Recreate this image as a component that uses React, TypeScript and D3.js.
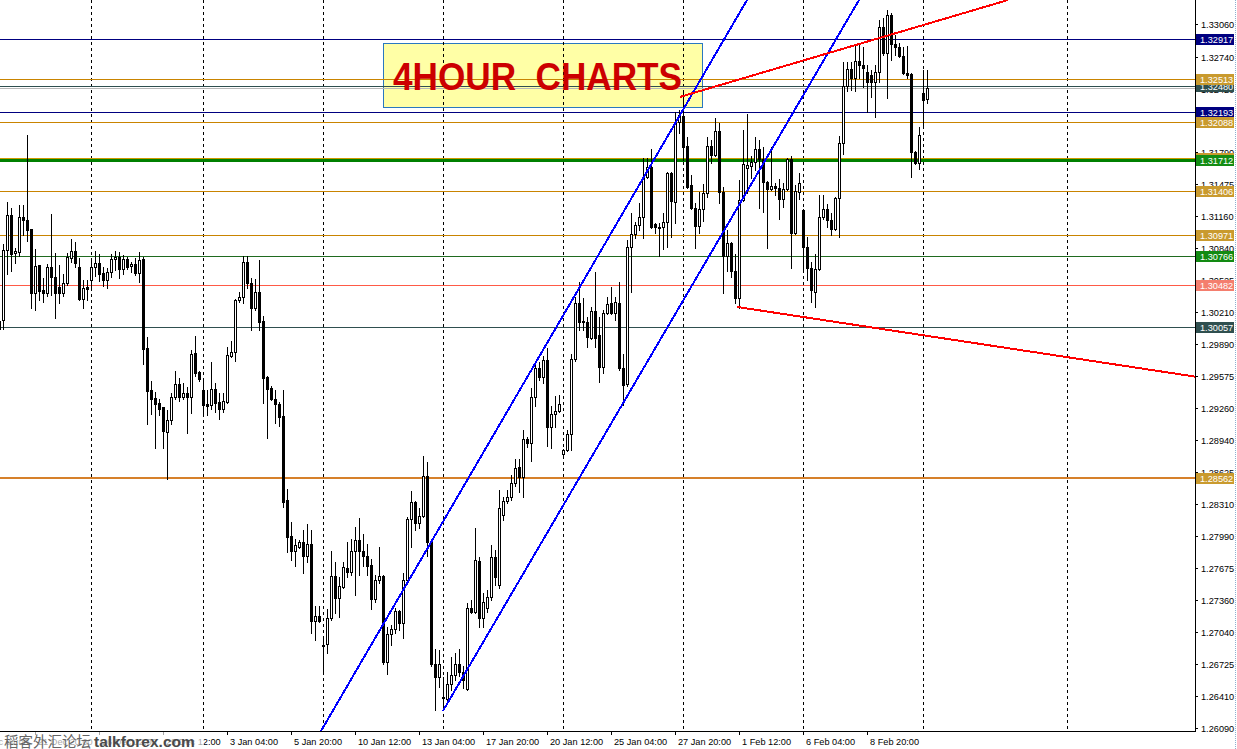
import React from "react";
import * as d3 from "d3";

// [open, high, low, close] — 4 hour candles
const candles: [number, number, number, number][] = [
  [1.3004, 1.3015, 1.2997, 1.3012], [1.3013, 1.3088, 1.3004, 1.3082], [1.3082, 1.3130, 1.3059, 1.3117], [1.3117, 1.3124, 1.3062, 1.3078],
  [1.3079, 1.3084, 1.3070, 1.3081], [1.3080, 1.3127, 1.3076, 1.3115], [1.3115, 1.3127, 1.3097, 1.3112], [1.3112, 1.3196, 1.3091, 1.3102],
  [1.3103, 1.3103, 1.3025, 1.3040], [1.3040, 1.3083, 1.3023, 1.3067], [1.3068, 1.3068, 1.3033, 1.3042], [1.3043, 1.3055, 1.3031, 1.3040],
  [1.3040, 1.3069, 1.3037, 1.3066], [1.3066, 1.3118, 1.3038, 1.3056], [1.3056, 1.3079, 1.3015, 1.3040], [1.3046, 1.3068, 1.3030, 1.3040],
  [1.3040, 1.3059, 1.3037, 1.3050], [1.3050, 1.3079, 1.3048, 1.3075], [1.3074, 1.3093, 1.3071, 1.3081], [1.3081, 1.3090, 1.3066, 1.3070],
  [1.3066, 1.3074, 1.3033, 1.3034], [1.3034, 1.3053, 1.3025, 1.3045], [1.3046, 1.3053, 1.3033, 1.3044], [1.3053, 1.3072, 1.3046, 1.3066],
  [1.3066, 1.3081, 1.3057, 1.3070], [1.3070, 1.3078, 1.3052, 1.3059], [1.3060, 1.3066, 1.3047, 1.3053], [1.3053, 1.3065, 1.3045, 1.3061],
  [1.3061, 1.3078, 1.3056, 1.3073], [1.3073, 1.3081, 1.3063, 1.3075], [1.3075, 1.3080, 1.3055, 1.3064], [1.3064, 1.3077, 1.3059, 1.3073],
  [1.3073, 1.3075, 1.3064, 1.3066], [1.3067, 1.3071, 1.3061, 1.3069], [1.3069, 1.3074, 1.3058, 1.3060], [1.3060, 1.3080, 1.3051, 1.3072],
  [1.3073, 1.3075, 1.2969, 1.2984], [1.2985, 1.2996, 1.2910, 1.2943], [1.2944, 1.2953, 1.2920, 1.2935], [1.2936, 1.2942, 1.2886, 1.2930],
  [1.2931, 1.2935, 1.2919, 1.2925], [1.2927, 1.2927, 1.2886, 1.2903], [1.2902, 1.2924, 1.2856, 1.2914], [1.2914, 1.2941, 1.2910, 1.2937],
  [1.2937, 1.2963, 1.2935, 1.2950], [1.2950, 1.2956, 1.2933, 1.2937], [1.2937, 1.2951, 1.2935, 1.2941], [1.2941, 1.2947, 1.2901, 1.2937],
  [1.2937, 1.2983, 1.2921, 1.2979], [1.2980, 1.2997, 1.2958, 1.2961], [1.2962, 1.2963, 1.2953, 1.2955], [1.2944, 1.2953, 1.2921, 1.2929],
  [1.2930, 1.2944, 1.2919, 1.2928], [1.2929, 1.2971, 1.2925, 1.2945], [1.2945, 1.2951, 1.2922, 1.2931], [1.2932, 1.2941, 1.2915, 1.2925],
  [1.2925, 1.2941, 1.2922, 1.2933], [1.2932, 1.2986, 1.2931, 1.2978], [1.2977, 1.2992, 1.2976, 1.2981], [1.2981, 1.3034, 1.2972, 1.3033],
  [1.3033, 1.3041, 1.3031, 1.3036], [1.3036, 1.3076, 1.3030, 1.3071], [1.3071, 1.3076, 1.3045, 1.3050], [1.3050, 1.3055, 1.3003, 1.3025],
  [1.3025, 1.3054, 1.3023, 1.3041], [1.3041, 1.3072, 1.3003, 1.3011], [1.3012, 1.3017, 1.2931, 1.2956], [1.2957, 1.2958, 1.2896, 1.2945],
  [1.2946, 1.2948, 1.2934, 1.2935], [1.2935, 1.2944, 1.2911, 1.2930], [1.2930, 1.2932, 1.2908, 1.2917], [1.2918, 1.2944, 1.2828, 1.2833],
  [1.2835, 1.2846, 1.2783, 1.2798], [1.2799, 1.2813, 1.2775, 1.2784], [1.2784, 1.2796, 1.2769, 1.2790], [1.2788, 1.2795, 1.2787, 1.2793],
  [1.2793, 1.2805, 1.2762, 1.2779], [1.2779, 1.2811, 1.2773, 1.2791], [1.2791, 1.2805, 1.2703, 1.2715], [1.2715, 1.2730, 1.2696, 1.2720],
  [1.2720, 1.2730, 1.2714, 1.2715], [1.2690, 1.2699, 1.2664, 1.2691], [1.2692, 1.2727, 1.2683, 1.2718], [1.2718, 1.2784, 1.2716, 1.2760],
  [1.2760, 1.2773, 1.2723, 1.2738], [1.2738, 1.2759, 1.2719, 1.2750], [1.2749, 1.2773, 1.2748, 1.2768], [1.2767, 1.2793, 1.2759, 1.2763],
  [1.2763, 1.2796, 1.2761, 1.2784], [1.2784, 1.2808, 1.2741, 1.2795], [1.2795, 1.2817, 1.2761, 1.2784], [1.2784, 1.2801, 1.2769, 1.2779],
  [1.2779, 1.2791, 1.2761, 1.2769], [1.2770, 1.2776, 1.2727, 1.2737], [1.2737, 1.2761, 1.2734, 1.2756], [1.2756, 1.2788, 1.2753, 1.2760],
  [1.2760, 1.2761, 1.2672, 1.2674], [1.2674, 1.2709, 1.2662, 1.2702], [1.2702, 1.2711, 1.2691, 1.2707], [1.2707, 1.2728, 1.2703, 1.2725],
  [1.2725, 1.2726, 1.2706, 1.2713], [1.2713, 1.2762, 1.2698, 1.2756], [1.2756, 1.2818, 1.2754, 1.2816], [1.2816, 1.2844, 1.2788, 1.2833],
  [1.2833, 1.2834, 1.2805, 1.2812], [1.2812, 1.2827, 1.2807, 1.2819], [1.2819, 1.2878, 1.2818, 1.2859], [1.2859, 1.2872, 1.2779, 1.2793],
  [1.2794, 1.2795, 1.2670, 1.2672], [1.2672, 1.2687, 1.2627, 1.2659], [1.2659, 1.2686, 1.2650, 1.2672], [1.2639, 1.2659, 1.2627, 1.2640],
  [1.2638, 1.2664, 1.2637, 1.2653], [1.2653, 1.2679, 1.2647, 1.2661], [1.2661, 1.2683, 1.2657, 1.2672], [1.2672, 1.2687, 1.2660, 1.2664],
  [1.2664, 1.2670, 1.2649, 1.2657], [1.2648, 1.2733, 1.2647, 1.2728], [1.2728, 1.2736, 1.2723, 1.2724], [1.2724, 1.2807, 1.2723, 1.2775],
  [1.2774, 1.2778, 1.2709, 1.2718], [1.2718, 1.2743, 1.2709, 1.2734], [1.2728, 1.2746, 1.2724, 1.2739], [1.2739, 1.2790, 1.2736, 1.2778],
  [1.2778, 1.2785, 1.2751, 1.2759], [1.2751, 1.2845, 1.2748, 1.2827], [1.2820, 1.2838, 1.2815, 1.2834], [1.2834, 1.2845, 1.2832, 1.2838],
  [1.2838, 1.2860, 1.2835, 1.2852], [1.2852, 1.2875, 1.2849, 1.2866], [1.2867, 1.2875, 1.2843, 1.2858], [1.2858, 1.2904, 1.2838, 1.2895],
  [1.2895, 1.2897, 1.2887, 1.2891], [1.2891, 1.2946, 1.2873, 1.2937], [1.2937, 1.2972, 1.2928, 1.2966], [1.2966, 1.2971, 1.2954, 1.2957],
  [1.2957, 1.2977, 1.2951, 1.2973], [1.2973, 1.2985, 1.2888, 1.2907], [1.2907, 1.2928, 1.2886, 1.2920], [1.2920, 1.2938, 1.2907, 1.2923],
  [1.2923, 1.2939, 1.2922, 1.2930], [1.2880, 1.2885, 1.2879, 1.2884], [1.2884, 1.2904, 1.2883, 1.2900], [1.2900, 1.2979, 1.2884, 1.2974],
  [1.2974, 1.3036, 1.2972, 1.3030], [1.3030, 1.3051, 1.3003, 1.3011], [1.3012, 1.3035, 1.3003, 1.3011], [1.3011, 1.3016, 1.2986, 1.2996],
  [1.2995, 1.3026, 1.2994, 1.3022], [1.3022, 1.3061, 1.2986, 1.2995], [1.2998, 1.3016, 1.2952, 1.2967], [1.2967, 1.3023, 1.2961, 1.3020],
  [1.3020, 1.3036, 1.3019, 1.3029], [1.3030, 1.3046, 1.3019, 1.3020], [1.3020, 1.3036, 1.3013, 1.3031], [1.3030, 1.3051, 1.2964, 1.2966],
  [1.2966, 1.2979, 1.2929, 1.2949], [1.2950, 1.3092, 1.2948, 1.3085], [1.3085, 1.3119, 1.3041, 1.3098], [1.3098, 1.3110, 1.3094, 1.3107],
  [1.3107, 1.3129, 1.3102, 1.3115], [1.3115, 1.3174, 1.3094, 1.3155], [1.3155, 1.3174, 1.3154, 1.3165], [1.3165, 1.3182, 1.3104, 1.3105],
  [1.3108, 1.3109, 1.3099, 1.3105], [1.3105, 1.3109, 1.3076, 1.3104], [1.3105, 1.3119, 1.3083, 1.3110], [1.3110, 1.3160, 1.3085, 1.3159],
  [1.3159, 1.3160, 1.3095, 1.3131], [1.3130, 1.3219, 1.3109, 1.3209], [1.3209, 1.3221, 1.3198, 1.3216], [1.3215, 1.3238, 1.3172, 1.3184],
  [1.3185, 1.3194, 1.3144, 1.3145], [1.3147, 1.3157, 1.3123, 1.3124], [1.3124, 1.3129, 1.3084, 1.3106], [1.3106, 1.3140, 1.3099, 1.3123],
  [1.3123, 1.3148, 1.3111, 1.3139], [1.3139, 1.3194, 1.3135, 1.3185], [1.3185, 1.3191, 1.3169, 1.3176], [1.3176, 1.3213, 1.3175, 1.3200],
  [1.3200, 1.3208, 1.3129, 1.3140], [1.3140, 1.3145, 1.3040, 1.3076], [1.3076, 1.3102, 1.3062, 1.3089], [1.3089, 1.3090, 1.3056, 1.3062],
  [1.3062, 1.3078, 1.3030, 1.3035], [1.3035, 1.3152, 1.3025, 1.3132], [1.3132, 1.3201, 1.3131, 1.3168], [1.3164, 1.3217, 1.3139, 1.3167],
  [1.3166, 1.3175, 1.3154, 1.3170], [1.3170, 1.3194, 1.3162, 1.3182], [1.3182, 1.3191, 1.3124, 1.3173], [1.3173, 1.3184, 1.3120, 1.3150],
  [1.3150, 1.3151, 1.3084, 1.3143], [1.3143, 1.3184, 1.3142, 1.3146], [1.3146, 1.3149, 1.3137, 1.3144], [1.3144, 1.3153, 1.3113, 1.3133],
  [1.3133, 1.3149, 1.3125, 1.3143], [1.3143, 1.3174, 1.3142, 1.3173], [1.3173, 1.3175, 1.3065, 1.3099], [1.3099, 1.3147, 1.3098, 1.3141],
  [1.3140, 1.3159, 1.3133, 1.3149], [1.3122, 1.3123, 1.3063, 1.3085], [1.3085, 1.3095, 1.3053, 1.3065], [1.3065, 1.3071, 1.3031, 1.3043],
  [1.3041, 1.3078, 1.3026, 1.3064], [1.3064, 1.3137, 1.3063, 1.3115], [1.3115, 1.3137, 1.3113, 1.3123], [1.3123, 1.3128, 1.3105, 1.3112],
  [1.3112, 1.3119, 1.3097, 1.3103], [1.3103, 1.3135, 1.3102, 1.3134], [1.3134, 1.3195, 1.3095, 1.3188], [1.3188, 1.3269, 1.3177, 1.3245],
  [1.3245, 1.3269, 1.3240, 1.3262], [1.3262, 1.3269, 1.3241, 1.3253], [1.3253, 1.3284, 1.3240, 1.3270], [1.3270, 1.3287, 1.3253, 1.3266],
  [1.3266, 1.3283, 1.3244, 1.3263], [1.3259, 1.3266, 1.3219, 1.3249], [1.3256, 1.3261, 1.3234, 1.3249], [1.3249, 1.3266, 1.3214, 1.3259],
  [1.3259, 1.3310, 1.3249, 1.3303], [1.3303, 1.3312, 1.3276, 1.3278], [1.3278, 1.3320, 1.3233, 1.3315], [1.3315, 1.3317, 1.3271, 1.3286],
  [1.3286, 1.3295, 1.3276, 1.3283], [1.3283, 1.3287, 1.3274, 1.3275], [1.3275, 1.3283, 1.3257, 1.3258], [1.3258, 1.3284, 1.3253, 1.3256],
  [1.3257, 1.3258, 1.3155, 1.3179], [1.3179, 1.3180, 1.3168, 1.3169], [1.3169, 1.3204, 1.3163, 1.3196], [1.3238, 1.3261, 1.3206, 1.3231],
  [1.3232, 1.3261, 1.3228, 1.3243],
];

const priceTicks = [1.3306, 1.3274, 1.3242, 1.32105, 1.3179, 1.31475, 1.3116, 1.3084, 1.30525, 1.3021, 1.2989, 1.29575,
  1.2926, 1.2894, 1.28625, 1.2831, 1.2799, 1.27675, 1.2736, 1.2704, 1.26725, 1.2641, 1.2609];

// [price, label text, line colour, line width, label background]
const levels: [number, string | null, string, number, string | null][] = [
  [1.32917, "1.32917", "#000080", 1, "#000080"],
  [1.32430, null, "#b8b8b8", 1, null],
  [1.32450, "1.32480", "#2f4f4f", 1, "#2f4f4f"],
  [1.32513, "1.32513", "#c98400", 1, "#c99a2e"],
  [1.32193, "1.32193", "#000080", 1, "#000080"],
  [1.32088, "1.32088", "#c98400", 1, "#c99a2e"],
  [1.31740, "1.31740", "#cc9a00", 1, "#c99a2e"],
  [1.31712, "1.31712", "#008000", 3, "#138c13"],
  [1.31406, "1.31406", "#c98400", 1, "#c99a2e"],
  [1.30971, "1.30971", "#c98400", 1, "#c99a2e"],
  [1.30766, "1.30766", "#1f6a1f", 1, "#128a12"],
  [1.30482, "1.30482", "#ff5a46", 1, "#f47e6e"],
  [1.30057, "1.30057", "#2f4f4f", 1, "#2f4f4f"],
  [1.28562, "1.28562", "#d6802a", 2, "#c99a2e"],
];

// candle index of each time label
const timeLabels: [number, string][] = [
  [-7, "19 Dec 04:00"], [9, "21 Dec 20:00"], [25, "26 Dec 12:00"], [41, "29 Dec 12:00"],
  [57, "3 Jan 04:00"], [73, "5 Jan 20:00"], [89, "10 Jan 12:00"], [105, "13 Jan 04:00"],
  [121, "17 Jan 20:00"], [137, "20 Jan 12:00"], [153, "25 Jan 04:00"], [169, "27 Jan 20:00"],
  [185, "1 Feb 12:00"], [201, "6 Feb 04:00"], [217, "8 Feb 20:00"],
];

const gridIndex = [23, 51, 81, 111, 141, 171, 201, 231, 267];

// trend lines: [[index, price], [index, price], colour]
const trendLines: [[number, number], [number, number], string][] = [
  [[80.5, 1.2606], [187, 1.3330], "#0000ff"],
  [[111, 1.2626], [215, 1.3330], "#0000ff"],
  [[170.25, 1.3234], [252.25, 1.3330], "#ff0000"],
  [[184.5, 1.3026], [299, 1.2957], "#ff0000"],
];

const titleText = "4HOUR  CHARTS";

export default function App() {
  const PR = 1195;
  const PB = 731;
  const x = d3.scaleLinear().domain([0, 299]).range([-1, 1195]);
  const y = d3.scaleLinear().domain([1.2606, 1.333]).range([PB, 0]);
  const py = (p: number) => Math.round(y(p));
  const font = "'Liberation Sans', Arial, sans-serif";

  return (
    <svg width={1237} height={749} style={{ position: "absolute", left: 0, top: 0, display: "block" }}
      shapeRendering="crispEdges" fontFamily={font}>
      <defs>
        <clipPath id="plot"><rect x={0} y={0} width={PR} height={PB} /></clipPath>
      </defs>
      <rect x={0} y={0} width={1237} height={749} fill="#ffffff" />

      {/* title box (under the lines) */}
      <rect x={383.5} y={43.5} width={319} height={64} fill="#ffffa6" stroke="#2a78c0" strokeWidth={1} />

      {/* vertical dashed grid */}
      {gridIndex.map((g) => (
        <line key={"g" + g} x1={Math.round(x(g)) + 0.5} x2={Math.round(x(g)) + 0.5} y1={0} y2={PB}
          stroke="#000" strokeWidth={1} strokeDasharray="3,3" />
      ))}

      {/* horizontal levels */}
      <g clipPath="url(#plot)">
        {levels.map(([p, , col, w], k) => (
          <line key={"l" + k} x1={0} x2={PR} y1={py(p) + (w % 2 ? 0.5 : 0)} y2={py(p) + (w % 2 ? 0.5 : 0)}
            stroke={col} strokeWidth={w} />
        ))}
      </g>

      {/* candles */}
      <g>
        {candles.map(([o, h, l, c], i) => {
          const cx = Math.round(x(i));
          const up = c >= o;
          const top = py(Math.max(o, c));
          const bot = py(Math.min(o, c));
          return (
            <g key={"c" + i}>
              <line x1={cx + 0.5} x2={cx + 0.5} y1={py(h)} y2={py(l) + 1} stroke="#000" strokeWidth={1} />
              {up ? (
                <rect x={cx - 0.5} y={top + 0.5} width={2} height={Math.max(0, bot - top)} fill="#fff" stroke="#000" strokeWidth={1} />
              ) : (
                <rect x={cx - 1} y={top} width={3} height={Math.max(1, bot - top + 1)} fill="#000" />
              )}
            </g>
          );
        })}
      </g>

      {/* trend lines */}
      <g clipPath="url(#plot)">
        {trendLines.map(([a, b, col], k) => (
          <line key={"t" + k} x1={x(a[0])} y1={y(a[1])} x2={x(b[0])} y2={y(b[1])} stroke={col} strokeWidth={2} />
        ))}
      </g>

      {/* title text */}
      <text x={393} y={90} fontSize={39} fontWeight="bold" fill="#cc0000" textLength={289}
        lengthAdjust="spacingAndGlyphs" style={{ whiteSpace: "pre" }} shapeRendering="auto">{titleText}</text>

      {/* axes */}
      <line x1={PR + 0.5} x2={PR + 0.5} y1={0} y2={PB + 1} stroke="#000" />
      <line x1={0} x2={PR + 1} y1={PB + 0.5} y2={PB + 0.5} stroke="#000" />
      <line x1={1235.5} x2={1235.5} y1={0} y2={749} stroke="#8fb0d0" strokeDasharray="1,1" />

      {priceTicks.map((t) => (
        <g key={"pt" + t}>
          <line x1={PR} x2={PR + 3} y1={py(t) + 0.5} y2={py(t) + 0.5} stroke="#000" />
          <text x={1201} y={py(t) + 3.5} fontSize={9.2} fill="#000">{t.toFixed(5)}</text>
        </g>
      ))}

      {levels.filter((d) => d[1] !== null).map(([p, lab, , , bg], k) => (
        <g key={"lb" + k}>
          <rect x={1196} y={py(p) - 5} width={38} height={11} fill={bg as string} />
          <text x={1200} y={py(p) + 3.5} fontSize={9.2} fill="#fff">{lab}</text>
        </g>
      ))}

      {timeLabels.map(([i, t]) => {
        const tx = Math.round(x(i));
        return (
          <g key={"tl" + i}>
            <line x1={tx + 0.5} x2={tx + 0.5} y1={PB} y2={PB + 4} stroke="#000" />
            <text x={tx + 3} y={745} fontSize={9.2} fill="#000">{t}</text>
          </g>
        );
      })}

      {/* watermark */}
      <rect x={0} y={732} width={204} height={17} fill="#ffffff" opacity={0.65} />
      <text x={4} y={747} fontSize={14.5} fill="#666666" fontFamily="'Noto Sans CJK SC', sans-serif" shapeRendering="auto">稻客外汇论坛</text>
      <text x={94} y={747} fontSize={15.5} fontWeight="bold" fill="#4a4a4a" shapeRendering="auto">talkforex.com</text>
    </svg>
  );
}
